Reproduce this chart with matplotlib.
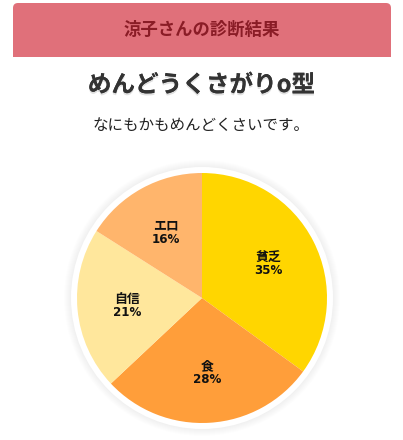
import matplotlib
matplotlib.use('Agg')
import matplotlib.pyplot as plt
import matplotlib.patheffects as pe
from matplotlib.patches import Circle, FancyBboxPatch, Rectangle
import numpy as np

plt.rcParams['font.family'] = ['Noto Sans CJK JP', 'DejaVu Sans']

# data
header_text = '涼子さんの診断結果'
type_name = 'めんどうくさがりo型'
type_desc = 'なにもかもめんどくさいです。'
categories = ['貧乏', '食', '自信', 'エロ']
shares = [35, 28, 21, 16]
colors = ['#FFD600', '#FF9E3A', '#FFE79C', '#FFB56C']

W, H = 403, 440
fig = plt.figure(figsize=(W / 100, H / 100), dpi=100)
ax = fig.add_axes([0, 0, 1, 1])

# header bar (rounded top corners only)
hdr = FancyBboxPatch((13, H - 57), 378, 54, boxstyle='round,pad=0,rounding_size=5',
                     fc='#E0707A', ec='none')
ax.add_patch(hdr)
ax.add_patch(Rectangle((13, H - 57), 378, 10, fc='#E0707A', ec='none'))
ax.text(W / 2, H - 30, header_text, ha='center', va='center', fontsize=12.5,
        fontweight='bold', color='#8A1C26')

t = ax.text(W / 2, H - 85, type_name, ha='center', va='center', fontsize=17,
            fontweight='bold', color='#333333')
t.set_path_effects([pe.withSimplePatchShadow(offset=(0, -1.5), shadow_rgbFace='#999999', alpha=0.3),
                    pe.Normal()])
ax.text(W / 2, H - 125, type_desc, ha='center', va='center', fontsize=11.2, color='#222222')

# pie
cx, cy, r = 202, H - 298, 125
for k in range(8):
    ax.add_patch(Circle((cx, cy), r + 6 + k, fc='#000000', alpha=0.006, ec='none', zorder=1))
ax.add_patch(Circle((cx, cy), r + 6, fc='white', ec='none', zorder=2))

wedges, _ = ax.pie(shares, colors=colors, startangle=90, counterclock=False,
                   center=(cx, cy), radius=r, frame=True,
                   wedgeprops=dict(linewidth=0))
for w in wedges:
    w.set_zorder(3)
ax.set_xlim(0, W)
ax.set_ylim(0, H)
ax.set_aspect('equal')
ax.axis('off')

for w, name, v in zip(wedges, categories, shares):
    mid = np.deg2rad((w.theta1 + w.theta2) / 2)
    x = cx + 0.6 * r * np.cos(mid)
    y = cy + 0.6 * r * np.sin(mid)
    ax.text(x, y + 6.5, name, ha='center', va='center', fontsize=9.3,
            fontweight='bold', color='#111111', zorder=5)
    ax.text(x, y - 7, f'{v}%', ha='center', va='center', fontsize=8.6,
            fontweight='bold', color='#111111', family='DejaVu Sans', zorder=5)

fig.savefig('out.png', dpi=100)
